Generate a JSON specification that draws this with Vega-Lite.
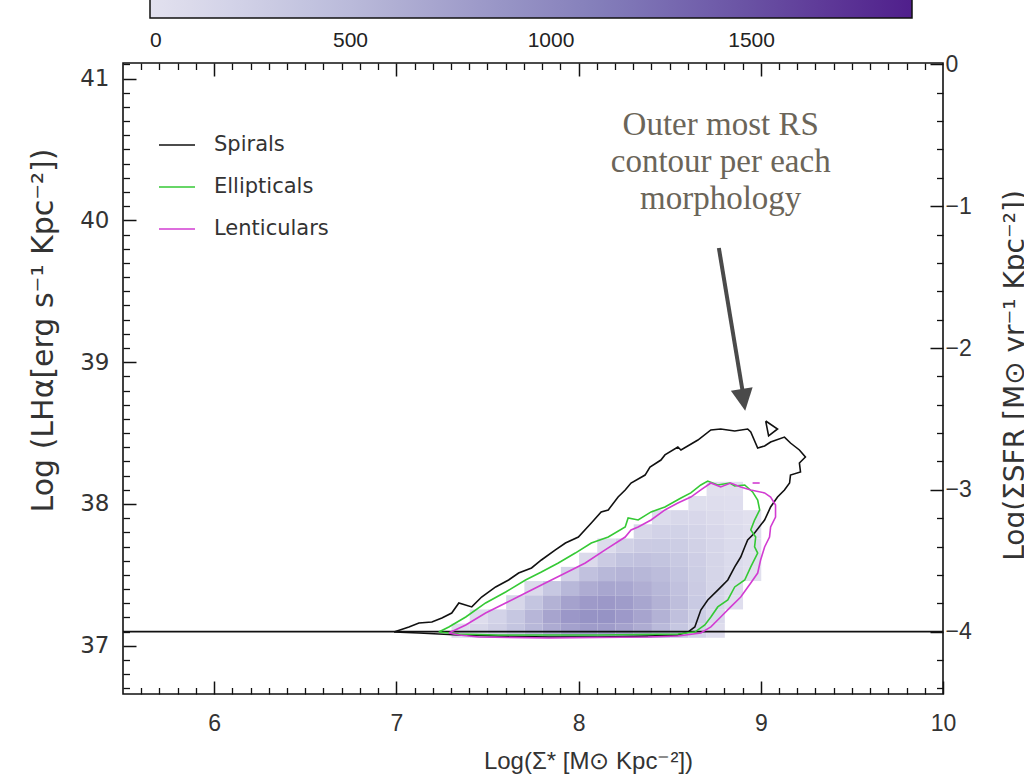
{
  "$schema": "https://vega.github.io/schema/vega-lite/v6.json",
  "autosize": {"type": "none"},
  "width": 820,
  "height": 631,
  "padding": {"left": 123, "top": 63, "right": 81, "bottom": 88},
  "background": "white",
  "config": {
    "view": {"stroke": "#111111", "strokeWidth": 1.6},
    "font": "Liberation Sans"
  },
  "datasets": {
    "heat": [
      {"x":7.35,"y":37.11,"c":60},{"x":7.45,"y":37.11,"c":150},{"x":7.55,"y":37.11,"c":250},{"x":7.65,"y":37.11,"c":380},{"x":7.75,"y":37.11,"c":520},{"x":7.85,"y":37.11,"c":650},{"x":7.95,"y":37.11,"c":750},{"x":8.05,"y":37.11,"c":800},{"x":8.15,"y":37.11,"c":800},{"x":8.25,"y":37.11,"c":740},{"x":8.35,"y":37.11,"c":640},{"x":8.45,"y":37.11,"c":500},{"x":8.55,"y":37.11,"c":360},{"x":8.65,"y":37.11,"c":200},{"x":8.75,"y":37.11,"c":60},
      {"x":7.45,"y":37.21,"c":60},{"x":7.55,"y":37.21,"c":200},{"x":7.65,"y":37.21,"c":360},{"x":7.75,"y":37.21,"c":540},{"x":7.85,"y":37.21,"c":720},{"x":7.95,"y":37.21,"c":850},{"x":8.05,"y":37.21,"c":900},{"x":8.15,"y":37.21,"c":900},{"x":8.25,"y":37.21,"c":830},{"x":8.35,"y":37.21,"c":720},{"x":8.45,"y":37.21,"c":580},{"x":8.55,"y":37.21,"c":430},{"x":8.65,"y":37.21,"c":280},{"x":8.75,"y":37.21,"c":120},
      {"x":7.65,"y":37.31,"c":150},{"x":7.75,"y":37.31,"c":380},{"x":7.85,"y":37.31,"c":580},{"x":7.95,"y":37.31,"c":740},{"x":8.05,"y":37.31,"c":820},{"x":8.15,"y":37.31,"c":840},{"x":8.25,"y":37.31,"c":800},{"x":8.35,"y":37.31,"c":700},{"x":8.45,"y":37.31,"c":580},{"x":8.55,"y":37.31,"c":450},{"x":8.65,"y":37.31,"c":320},{"x":8.75,"y":37.31,"c":170},{"x":8.85,"y":37.31,"c":40},
      {"x":7.75,"y":37.41,"c":100},{"x":7.85,"y":37.41,"c":340},{"x":7.95,"y":37.41,"c":520},{"x":8.05,"y":37.41,"c":640},{"x":8.15,"y":37.41,"c":700},{"x":8.25,"y":37.41,"c":690},{"x":8.35,"y":37.41,"c":620},{"x":8.45,"y":37.41,"c":530},{"x":8.55,"y":37.41,"c":420},{"x":8.65,"y":37.41,"c":300},{"x":8.75,"y":37.41,"c":180},{"x":8.85,"y":37.41,"c":70},
      {"x":7.95,"y":37.51,"c":200},{"x":8.05,"y":37.51,"c":420},{"x":8.15,"y":37.51,"c":520},{"x":8.25,"y":37.51,"c":560},{"x":8.35,"y":37.51,"c":530},{"x":8.45,"y":37.51,"c":470},{"x":8.55,"y":37.51,"c":380},{"x":8.65,"y":37.51,"c":280},{"x":8.75,"y":37.51,"c":180},{"x":8.85,"y":37.51,"c":90},{"x":8.95,"y":37.51,"c":20},
      {"x":8.05,"y":37.61,"c":100},{"x":8.15,"y":37.61,"c":300},{"x":8.25,"y":37.61,"c":400},{"x":8.35,"y":37.61,"c":420},{"x":8.45,"y":37.61,"c":390},{"x":8.55,"y":37.61,"c":330},{"x":8.65,"y":37.61,"c":260},{"x":8.75,"y":37.61,"c":180},{"x":8.85,"y":37.61,"c":90},{"x":8.95,"y":37.61,"c":30},
      {"x":8.15,"y":37.71,"c":80},{"x":8.25,"y":37.71,"c":230},{"x":8.35,"y":37.71,"c":300},{"x":8.45,"y":37.71,"c":310},{"x":8.55,"y":37.71,"c":280},{"x":8.65,"y":37.71,"c":230},{"x":8.75,"y":37.71,"c":160},{"x":8.85,"y":37.71,"c":90},{"x":8.95,"y":37.71,"c":30},
      {"x":8.35,"y":37.81,"c":150},{"x":8.45,"y":37.81,"c":210},{"x":8.55,"y":37.81,"c":220},{"x":8.65,"y":37.81,"c":190},{"x":8.75,"y":37.81,"c":140},{"x":8.85,"y":37.81,"c":80},{"x":8.95,"y":37.81,"c":30},
      {"x":8.45,"y":37.91,"c":80},{"x":8.55,"y":37.91,"c":130},{"x":8.65,"y":37.91,"c":140},{"x":8.75,"y":37.91,"c":100},{"x":8.85,"y":37.91,"c":60},{"x":8.95,"y":37.91,"c":20},
      {"x":8.65,"y":38.01,"c":50},{"x":8.75,"y":38.01,"c":60},{"x":8.85,"y":38.01,"c":40},
      {"x":8.75,"y":38.11,"c":20},{"x":8.85,"y":38.11,"c":20}
    ],
    "contours": [
      {"morph":"Spirals","part":"s1","i":1,"x":6.987,"y":37.097},
      {"morph":"Spirals","part":"s1","i":2,"x":7.069,"y":37.133},
      {"morph":"Spirals","part":"s1","i":3,"x":7.124,"y":37.161},
      {"morph":"Spirals","part":"s1","i":4,"x":7.195,"y":37.168},
      {"morph":"Spirals","part":"s1","i":5,"x":7.250,"y":37.196},
      {"morph":"Spirals","part":"s1","i":6,"x":7.304,"y":37.231},
      {"morph":"Spirals","part":"s1","i":7,"x":7.343,"y":37.302},
      {"morph":"Spirals","part":"s1","i":8,"x":7.414,"y":37.274},
      {"morph":"Spirals","part":"s1","i":9,"x":7.468,"y":37.344},
      {"morph":"Spirals","part":"s1","i":10,"x":7.545,"y":37.415},
      {"morph":"Spirals","part":"s1","i":11,"x":7.616,"y":37.464},
      {"morph":"Spirals","part":"s1","i":12,"x":7.671,"y":37.513},
      {"morph":"Spirals","part":"s1","i":13,"x":7.742,"y":37.549},
      {"morph":"Spirals","part":"s1","i":14,"x":7.796,"y":37.605},
      {"morph":"Spirals","part":"s1","i":15,"x":7.873,"y":37.676},
      {"morph":"Spirals","part":"s1","i":16,"x":7.928,"y":37.725},
      {"morph":"Spirals","part":"s1","i":17,"x":7.999,"y":37.767},
      {"morph":"Spirals","part":"s1","i":18,"x":8.070,"y":37.866},
      {"morph":"Spirals","part":"s1","i":19,"x":8.124,"y":37.944},
      {"morph":"Spirals","part":"s1","i":20,"x":8.163,"y":37.958},
      {"morph":"Spirals","part":"s1","i":21,"x":8.217,"y":38.049},
      {"morph":"Spirals","part":"s1","i":22,"x":8.256,"y":38.099},
      {"morph":"Spirals","part":"s1","i":23,"x":8.288,"y":38.148},
      {"morph":"Spirals","part":"s1","i":24,"x":8.365,"y":38.204},
      {"morph":"Spirals","part":"s1","i":25,"x":8.392,"y":38.261},
      {"morph":"Spirals","part":"s1","i":26,"x":8.452,"y":38.310},
      {"morph":"Spirals","part":"s1","i":27,"x":8.474,"y":38.346},
      {"morph":"Spirals","part":"s1","i":28,"x":8.545,"y":38.402},
      {"morph":"Spirals","part":"s1","i":29,"x":8.562,"y":38.381},
      {"morph":"Spirals","part":"s1","i":30,"x":8.655,"y":38.451},
      {"morph":"Spirals","part":"s1","i":31,"x":8.726,"y":38.522},
      {"morph":"Spirals","part":"s1","i":32,"x":8.780,"y":38.529},
      {"morph":"Spirals","part":"s1","i":33,"x":8.857,"y":38.515},
      {"morph":"Spirals","part":"s1","i":34,"x":8.928,"y":38.529},
      {"morph":"Spirals","part":"s1","i":35,"x":8.945,"y":38.508},
      {"morph":"Spirals","part":"s1","i":36,"x":8.983,"y":38.395},
      {"morph":"Spirals","part":"s1","i":37,"x":9.021,"y":38.409},
      {"morph":"Spirals","part":"s1","i":38,"x":9.054,"y":38.437},
      {"morph":"Spirals","part":"s1","i":39,"x":9.130,"y":38.472},
      {"morph":"Spirals","part":"s1","i":40,"x":9.163,"y":38.430},
      {"morph":"Spirals","part":"s1","i":41,"x":9.212,"y":38.381},
      {"morph":"Spirals","part":"s1","i":42,"x":9.245,"y":38.331},
      {"morph":"Spirals","part":"s1","i":43,"x":9.212,"y":38.289},
      {"morph":"Spirals","part":"s1","i":44,"x":9.218,"y":38.226},
      {"morph":"Spirals","part":"s1","i":45,"x":9.163,"y":38.204},
      {"morph":"Spirals","part":"s1","i":46,"x":9.158,"y":38.148},
      {"morph":"Spirals","part":"s1","i":47,"x":9.130,"y":38.099},
      {"morph":"Spirals","part":"s1","i":48,"x":9.092,"y":38.049},
      {"morph":"Spirals","part":"s1","i":49,"x":9.054,"y":37.979},
      {"morph":"Spirals","part":"s1","i":50,"x":9.021,"y":37.887},
      {"morph":"Spirals","part":"s1","i":51,"x":8.966,"y":37.795},
      {"morph":"Spirals","part":"s1","i":52,"x":8.928,"y":37.746},
      {"morph":"Spirals","part":"s1","i":53,"x":8.912,"y":37.697},
      {"morph":"Spirals","part":"s1","i":54,"x":8.890,"y":37.626},
      {"morph":"Spirals","part":"s1","i":55,"x":8.857,"y":37.556},
      {"morph":"Spirals","part":"s1","i":56,"x":8.819,"y":37.464},
      {"morph":"Spirals","part":"s1","i":57,"x":8.764,"y":37.393},
      {"morph":"Spirals","part":"s1","i":58,"x":8.709,"y":37.323},
      {"morph":"Spirals","part":"s1","i":59,"x":8.671,"y":37.252},
      {"morph":"Spirals","part":"s1","i":60,"x":8.638,"y":37.133},
      {"morph":"Spirals","part":"s1","i":61,"x":8.600,"y":37.097},
      {"morph":"Spirals","part":"s1","i":62,"x":8.545,"y":37.076},
      {"morph":"Spirals","part":"s1","i":63,"x":8.381,"y":37.069},
      {"morph":"Spirals","part":"s1","i":64,"x":8.108,"y":37.062},
      {"morph":"Spirals","part":"s1","i":65,"x":7.835,"y":37.062},
      {"morph":"Spirals","part":"s1","i":66,"x":7.561,"y":37.069},
      {"morph":"Spirals","part":"s1","i":67,"x":7.343,"y":37.076},
      {"morph":"Spirals","part":"s1","i":68,"x":7.233,"y":37.083},
      {"morph":"Spirals","part":"s1","i":69,"x":7.124,"y":37.090},
      {"morph":"Spirals","part":"s1","i":70,"x":6.987,"y":37.097},
      {"morph":"Spirals","part":"s2","i":1,"x":9.027,"y":38.585},
      {"morph":"Spirals","part":"s2","i":2,"x":9.092,"y":38.529},
      {"morph":"Spirals","part":"s2","i":3,"x":9.043,"y":38.480},
      {"morph":"Spirals","part":"s2","i":4,"x":9.027,"y":38.585},
      {"morph":"Ellipticals","part":"e1","i":1,"x":7.233,"y":37.097},
      {"morph":"Ellipticals","part":"e1","i":2,"x":7.288,"y":37.133},
      {"morph":"Ellipticals","part":"e1","i":3,"x":7.381,"y":37.203},
      {"morph":"Ellipticals","part":"e1","i":4,"x":7.490,"y":37.302},
      {"morph":"Ellipticals","part":"e1","i":5,"x":7.600,"y":37.379},
      {"morph":"Ellipticals","part":"e1","i":6,"x":7.709,"y":37.464},
      {"morph":"Ellipticals","part":"e1","i":7,"x":7.796,"y":37.520},
      {"morph":"Ellipticals","part":"e1","i":8,"x":7.889,"y":37.584},
      {"morph":"Ellipticals","part":"e1","i":9,"x":7.982,"y":37.654},
      {"morph":"Ellipticals","part":"e1","i":10,"x":8.070,"y":37.725},
      {"morph":"Ellipticals","part":"e1","i":11,"x":8.163,"y":37.767},
      {"morph":"Ellipticals","part":"e1","i":12,"x":8.256,"y":37.838},
      {"morph":"Ellipticals","part":"e1","i":13,"x":8.272,"y":37.901},
      {"morph":"Ellipticals","part":"e1","i":14,"x":8.327,"y":37.887},
      {"morph":"Ellipticals","part":"e1","i":15,"x":8.398,"y":37.944},
      {"morph":"Ellipticals","part":"e1","i":16,"x":8.474,"y":37.979},
      {"morph":"Ellipticals","part":"e1","i":17,"x":8.562,"y":38.042},
      {"morph":"Ellipticals","part":"e1","i":18,"x":8.616,"y":38.078},
      {"morph":"Ellipticals","part":"e1","i":19,"x":8.671,"y":38.134},
      {"morph":"Ellipticals","part":"e1","i":20,"x":8.709,"y":38.162},
      {"morph":"Ellipticals","part":"e1","i":21,"x":8.764,"y":38.134},
      {"morph":"Ellipticals","part":"e1","i":22,"x":8.830,"y":38.148},
      {"morph":"Ellipticals","part":"e1","i":23,"x":8.857,"y":38.127},
      {"morph":"Ellipticals","part":"e1","i":24,"x":8.912,"y":38.134},
      {"morph":"Ellipticals","part":"e1","i":25,"x":8.955,"y":38.085},
      {"morph":"Ellipticals","part":"e1","i":26,"x":8.983,"y":38.028},
      {"morph":"Ellipticals","part":"e1","i":27,"x":8.994,"y":37.958},
      {"morph":"Ellipticals","part":"e1","i":28,"x":8.966,"y":37.887},
      {"morph":"Ellipticals","part":"e1","i":29,"x":8.945,"y":37.817},
      {"morph":"Ellipticals","part":"e1","i":30,"x":8.972,"y":37.767},
      {"morph":"Ellipticals","part":"e1","i":31,"x":8.966,"y":37.697},
      {"morph":"Ellipticals","part":"e1","i":32,"x":8.983,"y":37.654},
      {"morph":"Ellipticals","part":"e1","i":33,"x":8.945,"y":37.556},
      {"morph":"Ellipticals","part":"e1","i":34,"x":8.912,"y":37.464},
      {"morph":"Ellipticals","part":"e1","i":35,"x":8.857,"y":37.415},
      {"morph":"Ellipticals","part":"e1","i":36,"x":8.819,"y":37.323},
      {"morph":"Ellipticals","part":"e1","i":37,"x":8.764,"y":37.274},
      {"morph":"Ellipticals","part":"e1","i":38,"x":8.726,"y":37.203},
      {"morph":"Ellipticals","part":"e1","i":39,"x":8.693,"y":37.147},
      {"morph":"Ellipticals","part":"e1","i":40,"x":8.638,"y":37.097},
      {"morph":"Ellipticals","part":"e1","i":41,"x":8.545,"y":37.083},
      {"morph":"Ellipticals","part":"e1","i":42,"x":8.108,"y":37.076},
      {"morph":"Ellipticals","part":"e1","i":43,"x":7.561,"y":37.076},
      {"morph":"Ellipticals","part":"e1","i":44,"x":7.343,"y":37.083},
      {"morph":"Ellipticals","part":"e1","i":45,"x":7.233,"y":37.097},
      {"morph":"Lenticulars","part":"l1","i":1,"x":7.288,"y":37.090},
      {"morph":"Lenticulars","part":"l1","i":2,"x":7.381,"y":37.147},
      {"morph":"Lenticulars","part":"l1","i":3,"x":7.490,"y":37.231},
      {"morph":"Lenticulars","part":"l1","i":4,"x":7.600,"y":37.302},
      {"morph":"Lenticulars","part":"l1","i":5,"x":7.709,"y":37.372},
      {"morph":"Lenticulars","part":"l1","i":6,"x":7.818,"y":37.443},
      {"morph":"Lenticulars","part":"l1","i":7,"x":7.928,"y":37.513},
      {"morph":"Lenticulars","part":"l1","i":8,"x":8.037,"y":37.584},
      {"morph":"Lenticulars","part":"l1","i":9,"x":8.146,"y":37.676},
      {"morph":"Lenticulars","part":"l1","i":10,"x":8.256,"y":37.767},
      {"morph":"Lenticulars","part":"l1","i":11,"x":8.288,"y":37.817},
      {"morph":"Lenticulars","part":"l1","i":12,"x":8.327,"y":37.838},
      {"morph":"Lenticulars","part":"l1","i":13,"x":8.398,"y":37.887},
      {"morph":"Lenticulars","part":"l1","i":14,"x":8.474,"y":37.958},
      {"morph":"Lenticulars","part":"l1","i":15,"x":8.545,"y":38.007},
      {"morph":"Lenticulars","part":"l1","i":16,"x":8.616,"y":38.049},
      {"morph":"Lenticulars","part":"l1","i":17,"x":8.671,"y":38.099},
      {"morph":"Lenticulars","part":"l1","i":18,"x":8.726,"y":38.148},
      {"morph":"Lenticulars","part":"l1","i":19,"x":8.780,"y":38.120},
      {"morph":"Lenticulars","part":"l1","i":20,"x":8.835,"y":38.148},
      {"morph":"Lenticulars","part":"l1","i":21,"x":8.890,"y":38.120},
      {"morph":"Lenticulars","part":"l1","i":22,"x":8.945,"y":38.099},
      {"morph":"Lenticulars","part":"l1","i":23,"x":9.021,"y":38.078},
      {"morph":"Lenticulars","part":"l1","i":24,"x":9.054,"y":38.049},
      {"morph":"Lenticulars","part":"l1","i":25,"x":9.081,"y":37.993},
      {"morph":"Lenticulars","part":"l1","i":26,"x":9.081,"y":37.908},
      {"morph":"Lenticulars","part":"l1","i":27,"x":9.054,"y":37.838},
      {"morph":"Lenticulars","part":"l1","i":28,"x":9.048,"y":37.767},
      {"morph":"Lenticulars","part":"l1","i":29,"x":9.021,"y":37.697},
      {"morph":"Lenticulars","part":"l1","i":30,"x":8.999,"y":37.605},
      {"morph":"Lenticulars","part":"l1","i":31,"x":8.983,"y":37.513},
      {"morph":"Lenticulars","part":"l1","i":32,"x":8.945,"y":37.443},
      {"morph":"Lenticulars","part":"l1","i":33,"x":8.890,"y":37.344},
      {"morph":"Lenticulars","part":"l1","i":34,"x":8.835,"y":37.274},
      {"morph":"Lenticulars","part":"l1","i":35,"x":8.780,"y":37.203},
      {"morph":"Lenticulars","part":"l1","i":36,"x":8.726,"y":37.133},
      {"morph":"Lenticulars","part":"l1","i":37,"x":8.671,"y":37.090},
      {"morph":"Lenticulars","part":"l1","i":38,"x":8.545,"y":37.069},
      {"morph":"Lenticulars","part":"l1","i":39,"x":8.381,"y":37.062},
      {"morph":"Lenticulars","part":"l1","i":40,"x":7.835,"y":37.055},
      {"morph":"Lenticulars","part":"l1","i":41,"x":7.452,"y":37.062},
      {"morph":"Lenticulars","part":"l1","i":42,"x":7.343,"y":37.076},
      {"morph":"Lenticulars","part":"l1","i":43,"x":7.288,"y":37.090},
      {"morph":"Lenticulars","part":"l2","i":1,"x":8.955,"y":38.148},
      {"morph":"Lenticulars","part":"l2","i":2,"x":8.994,"y":38.148}
    ],
    "thresh": [{"y": 37.1}],
    "arrow": [{"x": 8.770, "y": 39.805, "x2": 8.901, "y2": 38.790}],
    "head": [{"x": 8.905, "y": 38.735}],
    "note": [{"x": 8.78, "y": 40.673, "t": "Outer most RS\ncontour per each\nmorphology"}]
  },
  "resolve": {"axis": {"x": "independent", "y": "independent"}},
  "layer": [
    {
      "data": {"name": "heat"},
      "mark": {"type": "rect", "binSpacing": 0},
      "encoding": {
        "x": {"field": "x", "type": "quantitative", "bin": {"step": 0.1, "extent": [7.2, 9.3], "nice": false}, "scale": {"domain": [5.5, 10], "nice": false, "zero": false}, "axis": null},
        "y": {"field": "y", "type": "quantitative", "bin": {"step": 0.1, "extent": [37.06, 38.26], "nice": false}, "scale": {"domain": [36.66, 41.11], "nice": false, "zero": false}, "axis": null},
        "color": {
          "field": "c", "type": "quantitative",
          "scale": {"scheme": "purples", "domain": [0, 1900]},
          "legend": {"orient": "none", "direction": "horizontal", "legendX": 27, "legendY": -85, "gradientLength": 762, "gradientThickness": 40, "gradientStrokeColor": "#111111", "gradientStrokeWidth": 1.5, "values": [0, 500, 1000, 1500], "format": "d", "labelFontSize": 21, "labelFont": "Liberation Sans", "labelColor": "#222222", "labelOffset": 12, "labelAlign": "center", "labelOverlap": false, "title": null, "padding": 0}
        }
      }
    },
    {
      "data": {"name": "thresh"},
      "mark": {"type": "rule", "color": "#111111", "strokeWidth": 1.6},
      "encoding": {
        "y": {"field": "y", "type": "quantitative", "scale": {"domain": [36.66, 41.11], "nice": false, "zero": false},
          "axis": {"orient": "right", "values": [37.1, 38.1, 39.1, 40.1, 41.1], "labelExpr": "datum.value > 41 ? '0' : '\u2212' + format(41.1 - datum.value, '.0f')", "tickSize": -13, "tickWidth": 1.5, "tickColor": "#111111", "domain": false, "grid": false, "labelPadding": 15, "labelFontSize": 23, "labelFont": "Liberation Sans", "labelColor": "#333333", "labelFlush": false, "labelOverlap": false,
            "title": "Log(ΣSFR [M⊙ yr⁻¹ Kpc⁻²])", "titleFont": "DejaVu Sans", "titleFontSize": 28, "titleFontWeight": "normal", "titleColor": "#333333", "titleX": 72, "titleY": 312, "titleAngle": -90, "titleAlign": "center", "titleBaseline": "middle"}}
      }
    },
    {
      "data": {"name": "contours"},
      "mark": {"type": "line", "strokeWidth": 1.6},
      "encoding": {
        "x": {"field": "x", "type": "quantitative", "scale": {"domain": [5.5, 10], "nice": false, "zero": false},
          "axis": {"orient": "bottom", "values": [6, 7, 8, 9, 10], "format": "d", "tickSize": -13, "tickWidth": 1.5, "tickColor": "#111111", "domain": false, "grid": false, "labelPadding": 31, "labelFontSize": 23, "labelFont": "Liberation Sans", "labelColor": "#333333", "labelFlush": false, "labelOverlap": false,
            "title": "Log(Σ* [M⊙ Kpc⁻²])", "titleFont": "Liberation Sans", "titleFontSize": 24, "titleFontWeight": "normal", "titleColor": "#333333", "titleX": 465, "titleY": 67, "titleAlign": "center", "titleBaseline": "middle"}},
        "y": {"field": "y", "type": "quantitative", "scale": {"domain": [36.66, 41.11], "nice": false, "zero": false},
          "axis": {"orient": "left", "values": [37, 38, 39, 40, 41], "format": "d", "tickSize": -13, "tickWidth": 1.5, "tickColor": "#111111", "domain": false, "grid": false, "labelPadding": 27, "labelFontSize": 23, "labelFont": "DejaVu Sans", "labelColor": "#333333", "labelFlush": false, "labelOverlap": false,
            "title": "Log (LHα[erg s⁻¹ Kpc⁻²])", "titleFont": "DejaVu Sans", "titleFontSize": 30, "titleFontWeight": "normal", "titleColor": "#333333", "titleX": -80, "titleY": 267, "titleAngle": -90, "titleAlign": "center", "titleBaseline": "middle"}},
        "stroke": {"field": "morph", "type": "nominal",
          "scale": {"domain": ["Spirals", "Ellipticals", "Lenticulars"], "range": ["#111111", "#35c935", "#d23cd2"]},
          "legend": {"orient": "none", "legendX": 35, "legendY": 63, "title": null, "symbolType": "stroke", "symbolSize": 1300, "symbolStrokeWidth": 1.6, "labelFontSize": 21, "labelFont": "DejaVu Sans", "labelColor": "#333333", "rowPadding": 13, "labelOffset": 18, "padding": 0}},
        "detail": {"field": "part"},
        "order": {"field": "i", "type": "quantitative"}
      }
    },
    {
      "data": {"name": "arrow"},
      "mark": {"type": "rule", "color": "#4a4a4a", "strokeWidth": 4},
      "encoding": {
        "x": {"field": "x", "type": "quantitative", "scale": {"domain": [5.5, 10], "nice": false, "zero": false},
          "axis": {"orient": "bottom", "values": [5.6,5.7,5.8,5.9,6.1,6.2,6.3,6.4,6.5,6.6,6.7,6.8,6.9,7.1,7.2,7.3,7.4,7.5,7.6,7.7,7.8,7.9,8.1,8.2,8.3,8.4,8.5,8.6,8.7,8.8,8.9,9.1,9.2,9.3,9.4,9.5,9.6,9.7,9.8,9.9], "tickSize": -6.5, "tickWidth": 1.3, "tickColor": "#111111", "labels": false, "domain": false, "grid": false, "title": null}},
        "y": {"field": "y", "type": "quantitative", "scale": {"domain": [36.66, 41.11], "nice": false, "zero": false},
          "axis": {"orient": "left", "values": [36.7,36.8,36.9,37.1,37.2,37.3,37.4,37.5,37.6,37.7,37.8,37.9,38.1,38.2,38.3,38.4,38.5,38.6,38.7,38.8,38.9,39.1,39.2,39.3,39.4,39.5,39.6,39.7,39.8,39.9,40.1,40.2,40.3,40.4,40.5,40.6,40.7,40.8,40.9,41.1], "tickSize": -6.5, "tickWidth": 1.3, "tickColor": "#111111", "labels": false, "domain": false, "grid": false, "title": null}},
        "x2": {"field": "x2"},
        "y2": {"field": "y2"}
      }
    },
    {
      "data": {"name": "head"},
      "mark": {"type": "point", "shape": "M-1,-1L1,-1L0,1Z", "size": 484, "angle": -9, "filled": true, "color": "#4a4a4a", "opacity": 1},
      "encoding": {
        "x": {"field": "x", "type": "quantitative", "scale": {"domain": [5.5, 10], "nice": false, "zero": false},
          "axis": {"orient": "top", "values": [5.6,5.7,5.8,5.9,6.1,6.2,6.3,6.4,6.5,6.6,6.7,6.8,6.9,7.1,7.2,7.3,7.4,7.5,7.6,7.7,7.8,7.9,8.1,8.2,8.3,8.4,8.5,8.6,8.7,8.8,8.9,9.1,9.2,9.3,9.4,9.5,9.6,9.7,9.8,9.9], "tickSize": -6.5, "tickWidth": 1.3, "tickColor": "#111111", "labels": false, "domain": false, "grid": false, "title": null}},
        "y": {"field": "y", "type": "quantitative", "scale": {"domain": [36.66, 41.11], "nice": false, "zero": false},
          "axis": {"orient": "right", "values": [36.7,36.9,37.3,37.5,37.7,37.9,38.3,38.5,38.7,38.9,39.3,39.5,39.7,39.9,40.3,40.5,40.7,40.9], "tickSize": -6.5, "tickWidth": 1.3, "tickColor": "#111111", "labels": false, "domain": false, "grid": false, "title": null}}
      }
    },
    {
      "data": {"name": "note"},
      "mark": {"type": "text", "font": "Liberation Serif", "fontSize": 33, "color": "#6b6559", "lineBreak": "\n", "lineHeight": 37, "align": "center", "baseline": "middle"},
      "encoding": {
        "x": {"field": "x", "type": "quantitative", "scale": {"domain": [5.5, 10], "nice": false, "zero": false},
          "axis": {"orient": "top", "values": [6, 7, 8, 9], "tickSize": -13, "tickWidth": 1.5, "tickColor": "#111111", "labels": false, "domain": false, "grid": false, "title": null}},
        "y": {"field": "y", "type": "quantitative", "scale": {"domain": [36.66, 41.11], "nice": false, "zero": false}, "axis": null},
        "text": {"field": "t"}
      }
    }
  ]
}
